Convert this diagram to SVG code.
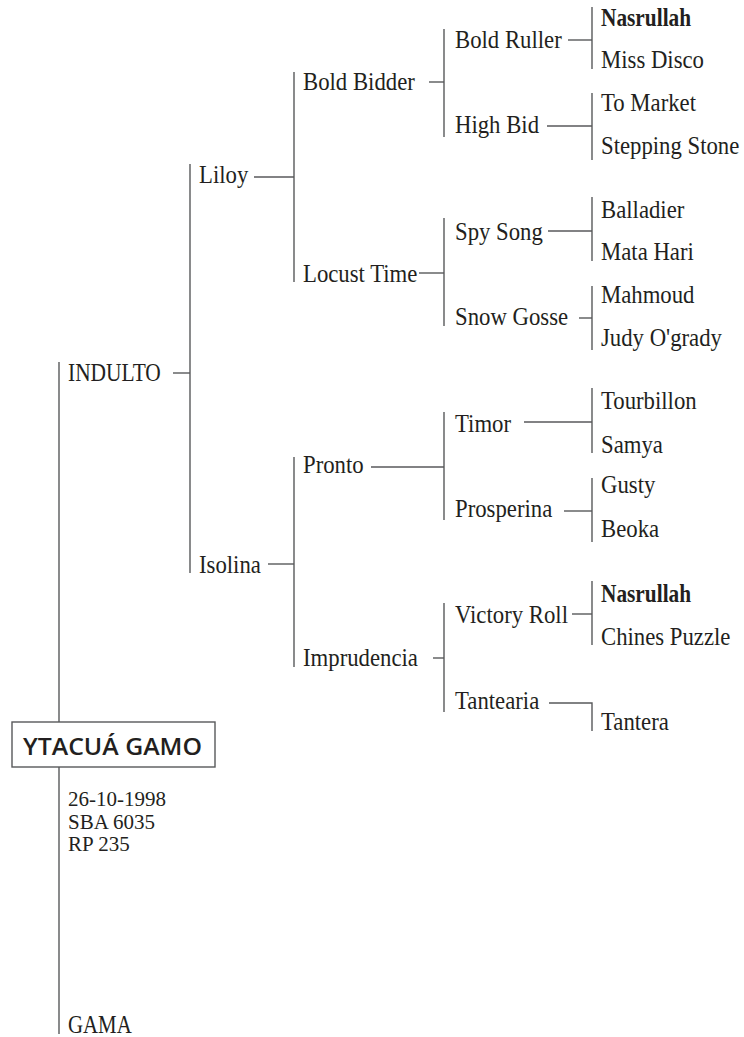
<svg xmlns="http://www.w3.org/2000/svg" width="744" height="1037" viewBox="0 0 744 1037">
  <style>
    .t { font-family: "Liberation Serif", "Times New Roman", serif; font-size: 25px; fill: #231f20; }
    .b { font-weight: bold; }
    .info { font-family: "Liberation Serif", "Times New Roman", serif; font-size: 21px; fill: #231f20; }
    .name { font-family: "Open Sans", "Liberation Sans", Arial, sans-serif; font-size: 24px; font-weight: 600; fill: #231f20; }
    .ln { stroke: #58595b; stroke-width: 1.4; fill: none; }
    .boxr { stroke: #58595b; stroke-width: 1.4; fill: #ffffff; }
  </style>
  <rect width="744" height="1037" fill="#ffffff"/>

  <g id="connectors" class="ln">
    <line x1="59" y1="362" x2="59" y2="722"/>
    <line x1="59" y1="767" x2="59" y2="1034"/>
    <line x1="173" y1="373" x2="190" y2="373"/>
    <line x1="190" y1="164" x2="190" y2="573"/>
    <line x1="254" y1="177" x2="294" y2="177"/>
    <line x1="268" y1="564" x2="294" y2="564"/>
    <line x1="294" y1="72" x2="294" y2="282"/>
    <line x1="294" y1="457" x2="294" y2="667"/>
    <line x1="429" y1="82" x2="444" y2="82"/>
    <line x1="419" y1="273" x2="444" y2="273"/>
    <line x1="371" y1="467" x2="444" y2="467"/>
    <line x1="433" y1="658" x2="444" y2="658"/>
    <line x1="444" y1="29" x2="444" y2="137"/>
    <line x1="444" y1="218" x2="444" y2="326"/>
    <line x1="444" y1="412" x2="444" y2="520"/>
    <line x1="444" y1="603" x2="444" y2="712"/>
    <line x1="568" y1="40" x2="592" y2="40"/>
    <line x1="547" y1="126" x2="592" y2="126"/>
    <line x1="548" y1="231" x2="592" y2="231"/>
    <line x1="579" y1="318" x2="592" y2="318"/>
    <line x1="524" y1="422" x2="592" y2="422"/>
    <line x1="564" y1="511" x2="592" y2="511"/>
    <line x1="572" y1="614" x2="592" y2="614"/>
    <polyline points="549,703 592,703 592,731"/>
    <line x1="592" y1="7" x2="592" y2="69"/>
    <line x1="592" y1="93" x2="592" y2="160"/>
    <line x1="592" y1="197" x2="592" y2="261"/>
    <line x1="592" y1="286" x2="592" y2="350"/>
    <line x1="592" y1="388" x2="592" y2="453"/>
    <line x1="592" y1="478" x2="592" y2="542"/>
    <line x1="592" y1="581" x2="592" y2="645"/>
  </g>

  <g id="node-ytacua-gamo">
    <rect class="boxr" x="12" y="722" width="203" height="45"/>
    <text class="name" x="23" y="755" textLength="179" lengthAdjust="spacingAndGlyphs">YTACUÁ GAMO</text>
  </g>
  <g id="node-info">
    <text class="info" x="68" y="806">26-10-1998</text>
    <text class="info" x="68" y="829">SBA 6035</text>
    <text class="info" x="68" y="851">RP 235</text>
  </g>
  <g id="node-gama" transform="translate(68 1033) scale(0.91 1)"><text class="t" textLength="70" lengthAdjust="spacingAndGlyphs">GAMA</text></g>

  <g id="node-indulto" transform="translate(68 381) scale(0.91 1)"><text class="t" textLength="102" lengthAdjust="spacingAndGlyphs">INDULTO</text></g>

  <g id="node-liloy" transform="translate(199 183) scale(0.91 1)"><text class="t">Liloy</text></g>
  <g id="node-isolina" transform="translate(199 573) scale(0.91 1)"><text class="t">Isolina</text></g>

  <g id="node-bold-bidder" transform="translate(303 90) scale(0.91 1)"><text class="t">Bold Bidder</text></g>
  <g id="node-locust-time" transform="translate(303 282) scale(0.91 1)"><text class="t">Locust Time</text></g>
  <g id="node-pronto" transform="translate(303 473) scale(0.91 1)"><text class="t">Pronto</text></g>
  <g id="node-imprudencia" transform="translate(303 666) scale(0.91 1)"><text class="t">Imprudencia</text></g>

  <g id="node-bold-ruller" transform="translate(455 48) scale(0.91 1)"><text class="t">Bold Ruller</text></g>
  <g id="node-high-bid" transform="translate(455 133) scale(0.91 1)"><text class="t">High Bid</text></g>
  <g id="node-spy-song" transform="translate(455 240) scale(0.91 1)"><text class="t">Spy Song</text></g>
  <g id="node-snow-gosse" transform="translate(455 325) scale(0.91 1)"><text class="t">Snow Gosse</text></g>
  <g id="node-timor" transform="translate(455 432) scale(0.91 1)"><text class="t">Timor</text></g>
  <g id="node-prosperina" transform="translate(455 517) scale(0.91 1)"><text class="t">Prosperina</text></g>
  <g id="node-victory-roll" transform="translate(455 623) scale(0.91 1)"><text class="t">Victory Roll</text></g>
  <g id="node-tantearia" transform="translate(455 709) scale(0.91 1)"><text class="t">Tantearia</text></g>

  <g id="node-nasrullah-1" transform="translate(601 26) scale(0.91 1)"><text class="t b" textLength="99" lengthAdjust="spacingAndGlyphs">Nasrullah</text></g>
  <g id="node-miss-disco" transform="translate(601 68) scale(0.91 1)"><text class="t">Miss Disco</text></g>
  <g id="node-to-market" transform="translate(601 111) scale(0.91 1)"><text class="t">To Market</text></g>
  <g id="node-stepping-stone" transform="translate(601 154) scale(0.91 1)"><text class="t">Stepping Stone</text></g>
  <g id="node-balladier" transform="translate(601 218) scale(0.91 1)"><text class="t">Balladier</text></g>
  <g id="node-mata-hari" transform="translate(601 260) scale(0.91 1)"><text class="t">Mata Hari</text></g>
  <g id="node-mahmoud" transform="translate(601 303) scale(0.91 1)"><text class="t">Mahmoud</text></g>
  <g id="node-judy-ogrady" transform="translate(601 346) scale(0.91 1)"><text class="t">Judy O'grady</text></g>
  <g id="node-tourbillon" transform="translate(601 409) scale(0.91 1)"><text class="t">Tourbillon</text></g>
  <g id="node-samya" transform="translate(601 453) scale(0.91 1)"><text class="t">Samya</text></g>
  <g id="node-gusty" transform="translate(601 493) scale(0.91 1)"><text class="t">Gusty</text></g>
  <g id="node-beoka" transform="translate(601 537) scale(0.91 1)"><text class="t">Beoka</text></g>
  <g id="node-nasrullah-2" transform="translate(601 602) scale(0.91 1)"><text class="t b" textLength="99" lengthAdjust="spacingAndGlyphs">Nasrullah</text></g>
  <g id="node-chines-puzzle" transform="translate(601 645) scale(0.91 1)"><text class="t">Chines Puzzle</text></g>
  <g id="node-tantera" transform="translate(601 730) scale(0.91 1)"><text class="t">Tantera</text></g>
</svg>
